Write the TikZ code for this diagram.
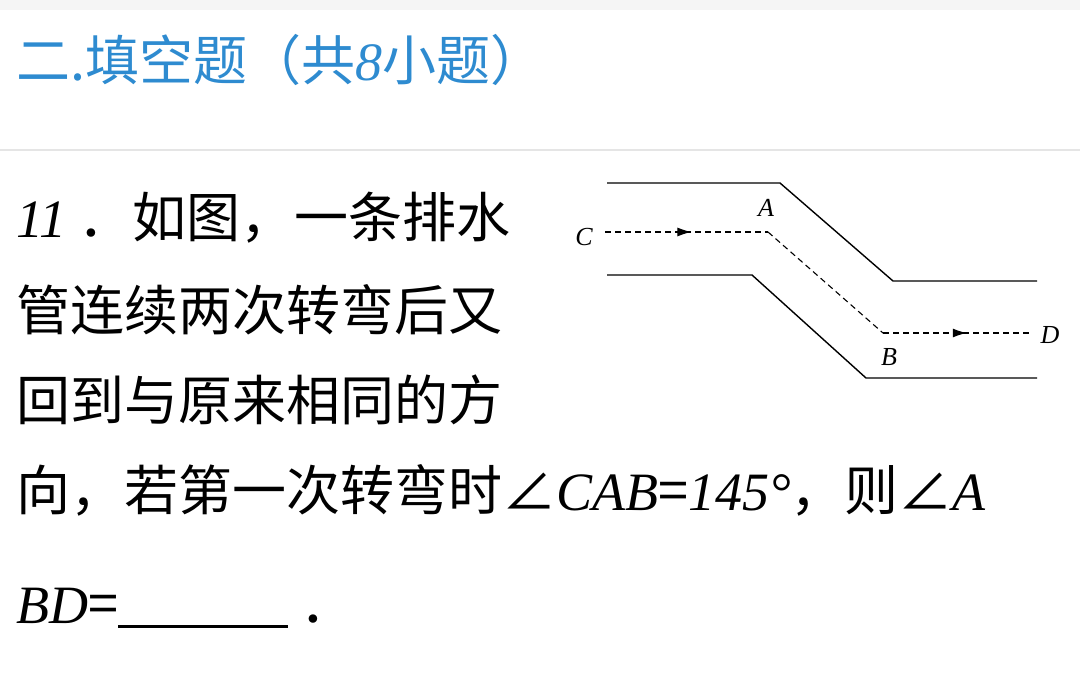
\documentclass[tikz,border=0pt]{standalone}
\usepackage{fontspec}
\newfontfamily\cjk{Noto Sans CJK SC}
\newfontfamily\lat{Liberation Serif}
\usetikzlibrary{arrows.meta,decorations.markings}
\definecolor{titleblue}{HTML}{2E8BD0}
\newcommand{\latit}[1]{{\lat\itshape #1}}
\tikzset{
  txt/.style={anchor=west, inner sep=0pt, font=\fontsize{54}{60}\selectfont\cjk},
  pipe/.style={line width=1.4pt},
  flow/.style={line width=1.1pt, dash pattern=on 6pt off 4pt},
  lbl/.style={font=\fontsize{26}{28}\selectfont\lat\itshape, inner sep=1pt},
  midarrow/.style={postaction={decorate}, decoration={markings,
    mark=at position #1 with {\arrow{Latex[length=14pt,width=9pt]}}}}
}
\begin{document}
\begin{tikzpicture}[x=1pt,y=-1pt]
  \useasboundingbox (0,0) rectangle (1080,692);
  \fill[gray!8] (0,0) rectangle (1080,10);
  \draw[gray!20, line width=1.5pt] (0,150) -- (1080,150);
  % heading
  \node[txt, text=titleblue] (title) at (16,60) {二.填空题（共\latit{8}小题）};
  % question
  \node[txt] (l1) at (16,218) {\latit{11} ．如图，一条排水};
  \node[txt] (l2) at (16,310) {管连续两次转弯后又};
  \node[txt] (l3) at (16,400) {回到与原来相同的方};
  \node[txt] (l4) at (16,490) {向，若第一次转弯时∠\latit{CAB}=\latit{145°}，则∠\latit{A}};
  \node[txt] (l5) at (16,608) {\latit{BD}=\rule[-4pt]{170pt}{2.5pt} ．};
  % pipe
  \draw[pipe] (607,183) -- (780,183) -- (893,281) -- (1037,281);
  \draw[pipe] (607,275) -- (752,275) -- (866,378) -- (1037,378);
  \coordinate (c0) at (605,232);
  \coordinate (a) at (768,232);
  \coordinate (b) at (883,333);
  \coordinate (d0) at (1030,333);
  \draw[flow, midarrow=0.53] (c0) -- (a);
  \draw[flow] (a) -- (b);
  \draw[flow, midarrow=0.57] (b) -- (d0);
  \node[lbl] (C) at (584,237) {C};
  \node[lbl] (A) at (766,208) {A};
  \node[lbl] (B) at (889,357) {B};
  \node[lbl] (D) at (1050,335) {D};
\end{tikzpicture}
\end{document}
